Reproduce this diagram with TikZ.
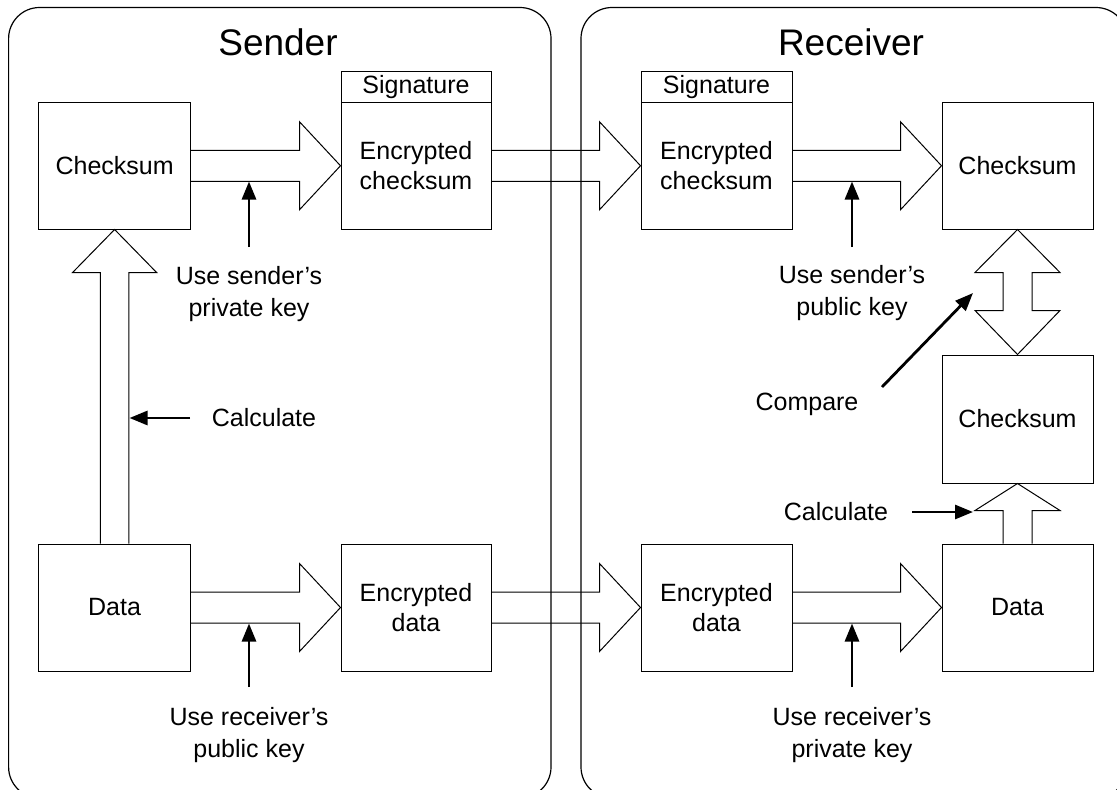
\documentclass[tikz,border=0pt]{standalone}
\usepackage{fontspec}
\setmainfont{Liberation Sans}
\usetikzlibrary{calc,arrows.meta}
\newcommand\blkarrowH[2]{%
  \draw[blk] ($(#1.east)+(0,15.5)$) -- ($(#2.west)+(-41,15.5)$) -- ($(#2.west)+(-41,44)$) -- (#2.west)
    -- ($(#2.west)+(-41,-44)$) -- ($(#2.west)+(-41,-15.5)$) -- ($(#1.east)+(0,-15.5)$);}
\begin{document}
\begin{tikzpicture}[x=1pt,y=-1pt,
  box/.style={draw=black,line width=1pt,inner sep=0pt,align=center,font=\fontsize{25}{30}\selectfont},
  lbl/.style={inner sep=0pt,align=center,font=\fontsize{25}{32}\selectfont},
  ttl/.style={inner sep=0pt,font=\fontsize{37}{44}\selectfont},
  blk/.style={draw=black,line width=1pt,line join=miter},
  keyarrow/.style={line width=2.8pt,-{Triangle[length=18pt,width=14pt]}},
  panel/.style={draw=black,line width=1.2pt,rounded corners=31pt}]
\useasboundingbox (0,0) rectangle (1117,790);
\clip (0,0) rectangle (1117,790);

% titles
\node[ttl] (tsend) at (278,42) {Sender};
\node[ttl] (trecv) at (851,42) {Receiver};

% sender boxes
\node[box,minimum width=152pt,minimum height=126.5pt] (schk) at (114.6,165.75) {Checksum};
\node[box,minimum width=152pt,minimum height=127pt] (sdat) at (114.6,607.5) {Data};
\node[box,minimum width=150pt,minimum height=31.5pt] (ssig) at (416,86.75) {Signature};
\node[box,minimum width=150pt,minimum height=126.5pt] (senc) at (416,165.75) {Encrypted\\checksum};
\node[box,minimum width=150pt,minimum height=127pt] (sencd) at (416,607.5) {Encrypted\\data};

% receiver boxes
\node[box,minimum width=151pt,minimum height=31.5pt] (rsig) at (716.5,86.75) {Signature};
\node[box,minimum width=151pt,minimum height=126.5pt] (renc) at (716.5,165.75) {Encrypted\\checksum};
\node[box,minimum width=151pt,minimum height=127pt] (rencd) at (716.5,607.5) {Encrypted\\data};
\node[box,minimum width=151pt,minimum height=126.5pt] (rchk) at (1017.5,165.75) {Checksum};
\node[box,minimum width=151pt,minimum height=128pt] (rchk2) at (1017.5,419) {Checksum};
\node[box,minimum width=151pt,minimum height=127pt] (rdat) at (1017.5,607.5) {Data};

% horizontal block arrows
\blkarrowH{schk}{senc}
\blkarrowH{sdat}{sencd}
\blkarrowH{senc}{renc}
\blkarrowH{sencd}{rencd}
\blkarrowH{renc}{rchk}
\blkarrowH{rencd}{rdat}

% vertical block arrow: sender data -> checksum
\draw[blk] ($(sdat.north)+(-14.3,0)$) -- ($(schk.south)+(-14.3,43)$) -- ($(schk.south)+(-42,43)$)
  -- (schk.south) -- ($(schk.south)+(42,43)$) -- ($(schk.south)+(14.3,43)$) -- ($(sdat.north)+(14.3,0)$);
% receiver data -> checksum2
\draw[blk] ($(rdat.north)+(-14.5,0)$) -- ($(rchk2.south)+(-14.5,27)$) -- ($(rchk2.south)+(-42.5,27)$)
  -- (rchk2.south) -- ($(rchk2.south)+(42.5,27)$) -- ($(rchk2.south)+(14.5,27)$) -- ($(rdat.north)+(14.5,0)$);
% double arrow (compare)
\draw[blk] (rchk.south) -- ($(rchk.south)+(42.5,43)$) -- ($(rchk.south)+(14.5,43)$)
  -- ($(rchk2.north)+(14.5,-44)$) -- ($(rchk2.north)+(42.5,-44)$) -- (rchk2.north)
  -- ($(rchk2.north)+(-42.5,-44)$) -- ($(rchk2.north)+(-14.5,-44)$)
  -- ($(rchk.south)+(-14.5,43)$) -- ($(rchk.south)+(-42.5,43)$) -- cycle;

% labels
\node[lbl] (lspk) at (249,294) {Use sender’s\\private key};
\node[lbl] (lrpk) at (249,735) {Use receiver’s\\public key};
\node[lbl] (lspub) at (852,293) {Use sender’s\\public key};
\node[lbl] (lrprv) at (852,735) {Use receiver’s\\private key};
\node[lbl] (lcalc1) at (264,418) {Calculate};
\node[lbl] (lcalc2) at (836,512) {Calculate};
\node[lbl] (lcmp) at (807,404) {Compare};

% key arrows
\coordinate (k1s) at (249,247);  \coordinate (k1e) at (249,181.5);
\coordinate (k2s) at (249,687);  \coordinate (k2e) at (249,623.5);
\coordinate (k3s) at (852,247);  \coordinate (k3e) at (852,181.5);
\coordinate (k4s) at (852,687);  \coordinate (k4e) at (852,623.5);
\coordinate (c1s) at (190,418);  \coordinate (c1e) at (129.5,418);
\coordinate (c2s) at (912,512);  \coordinate (c2e) at (973,512);
\coordinate (cms) at (882,387);  \coordinate (cme) at (973,293);
\draw[keyarrow] (k1s) -- (k1e);
\draw[keyarrow] (k2s) -- (k2e);
\draw[keyarrow] (k3s) -- (k3e);
\draw[keyarrow] (k4s) -- (k4e);
\draw[keyarrow] (c1s) -- (c1e);
\draw[keyarrow] (c2s) -- (c2e);
\draw[keyarrow] (cms) -- (cme);

% panels
\draw[panel] (8.6,7.5) rectangle (551,798);
\draw[panel] (581,7.5) rectangle (1127,798);
\end{tikzpicture}
\end{document}
